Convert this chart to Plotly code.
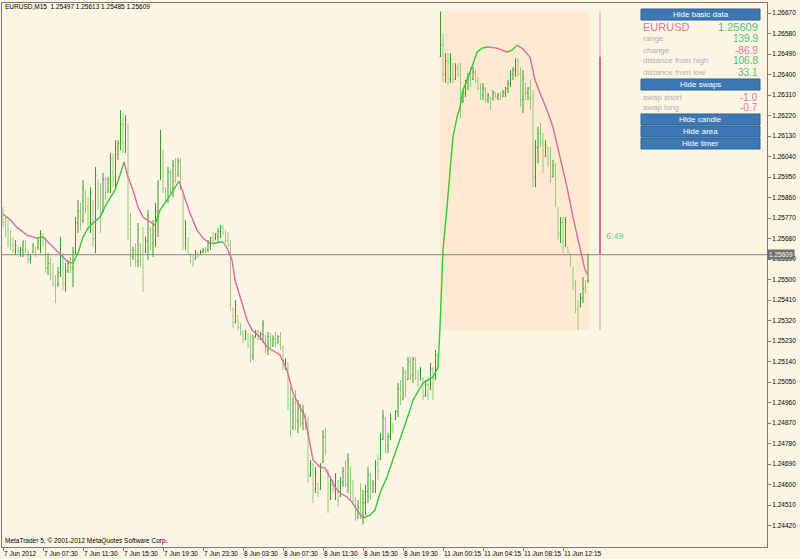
import plotly.graph_objects as go

# ---------------- data (EURUSD, M15) ----------------
opens = [1.25800,1.25750,1.25710,1.25670,1.25650,1.25630,1.25640,1.25620,1.25630,1.25660,
1.25630,1.25590,1.25620,1.25640,1.25640,1.25660,1.25690,1.25660,1.25550,1.25570,
1.25520,1.25480,1.25480,1.25530,1.25600,1.25480,1.25540,1.25570,1.25550,1.25620,
1.25750,1.25800,1.25760,1.25890,1.25820,1.25750,1.25820,1.25680,1.25920,1.25840,
1.25800,1.25940,1.25890,1.25930,1.26030,1.25950,1.26050,1.26100,1.26180,1.26100,
1.26170,1.25720,1.25600,1.25630,1.25580,1.25650,1.25680,1.25620,1.25670,1.25720,
1.25660,1.25740,1.25800,1.25940,1.26050,1.25900,1.25850,1.25970,1.25900,1.26000,
1.25960,1.26020,1.25870,1.25660,1.25680,1.25610,1.25580,1.25590,1.25610,1.25610,
1.25620,1.25630,1.25630,1.25660,1.25680,1.25680,1.25690,1.25710,1.25730,1.25700,
1.25670,1.25650,1.25370,1.25310,1.25340,1.25290,1.25270,1.25240,1.25260,1.25210,
1.25170,1.25250,1.25270,1.25240,1.25260,1.25250,1.25190,1.25250,1.25210,1.25240,
1.25220,1.25250,1.25200,1.25120,1.25130,1.24950,1.24850,1.24960,1.24880,1.24930,
1.24870,1.24910,1.24860,1.24640,1.24690,1.24580,1.24600,1.24580,1.24700,1.24810,
1.24660,1.24540,1.24600,1.24580,1.24615,1.24550,1.24610,1.24660,1.24600,1.24670,
1.24560,1.24530,1.24450,1.24500,1.24470,1.24520,1.24570,1.24640,1.24570,1.24600,
1.24690,1.24710,1.24800,1.24890,1.24770,1.24810,1.24865,1.24890,1.24920,1.25020,
1.24980,1.25090,1.25060,1.25140,1.25080,1.25150,1.25070,1.25060,1.25060,1.24990,
1.25040,1.25020,1.25110,1.25060,1.25160,1.26478,1.26530,1.26400,1.26460,1.26380,
1.26445,1.26380,1.26430,1.26400,1.26280,1.26320,1.26360,1.26390,1.26380,1.26410,
1.26370,1.26340,1.26310,1.26340,1.26290,1.26300,1.26290,1.26320,1.26300,1.26310,
1.26305,1.26320,1.26340,1.26360,1.26400,1.26420,1.26460,1.26400,1.26290,1.26360,
1.26320,1.26340,1.26300,1.25950,1.26080,1.26140,1.26100,1.26040,1.26080,1.26010,
1.25950,1.26000,1.25810,1.25700,1.25750,1.25650,1.25640,1.25610,1.25550,1.25480,
1.25370,1.25380,1.25420,1.25460,1.25497]

highs = [1.25818,1.25774,1.25761,1.25717,1.25687,1.25673,1.25643,1.25643,1.25673,1.25673,
1.25630,1.25608,1.25660,1.25643,1.25687,1.25717,1.25704,1.25687,1.25616,1.25594,
1.25572,1.25520,1.25555,1.25687,1.25616,1.25572,1.25586,1.25599,1.25643,1.25774,
1.25849,1.25836,1.25937,1.25893,1.25862,1.25906,1.25849,1.25994,1.25937,1.25924,
1.25968,1.25950,1.25950,1.26055,1.26055,1.26112,1.26112,1.26244,1.26231,1.26222,
1.26187,1.25792,1.25643,1.25660,1.25748,1.25660,1.25730,1.25687,1.25805,1.25730,
1.25761,1.25836,1.25937,1.26156,1.26069,1.25906,1.25994,1.25981,1.26025,1.26033,
1.26033,1.26033,1.25871,1.25761,1.25687,1.25616,1.25608,1.25630,1.25621,1.25630,
1.25638,1.25643,1.25673,1.25687,1.25709,1.25704,1.25726,1.25739,1.25739,1.25717,
1.25709,1.25673,1.25379,1.25410,1.25344,1.25309,1.25278,1.25278,1.25265,1.25265,
1.25256,1.25278,1.25278,1.25270,1.25322,1.25256,1.25270,1.25265,1.25256,1.25270,
1.25256,1.25270,1.25212,1.25155,1.25134,1.25028,1.24984,1.25015,1.24971,1.24958,
1.24949,1.24914,1.24896,1.24708,1.24694,1.24677,1.24607,1.24694,1.24839,1.24852,
1.24664,1.24633,1.24620,1.24651,1.24620,1.24633,1.24677,1.24708,1.24738,1.24677,
1.24620,1.24545,1.24532,1.24607,1.24576,1.24598,1.24677,1.24651,1.24620,1.24708,
1.24729,1.24826,1.24927,1.24896,1.24826,1.24914,1.24870,1.24927,1.25046,1.25059,
1.25116,1.25103,1.25160,1.25160,1.25160,1.25160,1.25103,1.25116,1.25072,1.25059,
1.25072,1.25134,1.25116,1.25191,1.25177,1.26677,1.26582,1.26494,1.26494,1.26494,
1.26450,1.26450,1.26450,1.26450,1.26332,1.26376,1.26407,1.26433,1.26433,1.26420,
1.26389,1.26363,1.26363,1.26345,1.26319,1.26301,1.26332,1.26323,1.26319,1.26323,
1.26332,1.26345,1.26376,1.26420,1.26433,1.26472,1.26472,1.26433,1.26420,1.26363,
1.26345,1.26376,1.26332,1.26112,1.26170,1.26187,1.26143,1.26112,1.26082,1.26082,
1.26025,1.26011,1.25818,1.25774,1.25774,1.25774,1.25643,1.25616,1.25555,1.25498,
1.25410,1.25441,1.25511,1.25498,1.25613]

lows = [1.25730,1.25687,1.25643,1.25630,1.25616,1.25608,1.25616,1.25599,1.25599,1.25616,
1.25572,1.25572,1.25616,1.25599,1.25630,1.25616,1.25643,1.25529,1.25520,1.25498,
1.25467,1.25397,1.25467,1.25511,1.25454,1.25445,1.25529,1.25529,1.25467,1.25608,
1.25704,1.25717,1.25748,1.25792,1.25717,1.25704,1.25643,1.25616,1.25805,1.25704,
1.25792,1.25849,1.25880,1.25880,1.25906,1.25906,1.26025,1.26069,1.26055,1.26055,
1.25673,1.25555,1.25586,1.25555,1.25555,1.25555,1.25445,1.25616,1.25586,1.25630,
1.25599,1.25643,1.25687,1.25937,1.25880,1.25836,1.25836,1.25880,1.25862,1.25924,
1.25950,1.25893,1.25630,1.25630,1.25608,1.25572,1.25555,1.25586,1.25594,1.25608,
1.25616,1.25616,1.25621,1.25630,1.25660,1.25673,1.25665,1.25682,1.25695,1.25660,
1.25643,1.25366,1.25287,1.25309,1.25278,1.25256,1.25221,1.25234,1.25199,1.25134,
1.25147,1.25243,1.25234,1.25234,1.25221,1.25177,1.25169,1.25199,1.25204,1.25204,
1.25221,1.25191,1.25103,1.25103,1.24927,1.24809,1.24839,1.24839,1.24826,1.24852,
1.24839,1.24839,1.24607,1.24633,1.24519,1.24563,1.24545,1.24576,1.24694,1.24729,
1.24475,1.24532,1.24563,1.24532,1.24501,1.24545,1.24589,1.24589,1.24563,1.24532,
1.24510,1.24440,1.24450,1.24448,1.24425,1.24466,1.24519,1.24532,1.24563,1.24563,
1.24620,1.24708,1.24795,1.24738,1.24738,1.24795,1.24826,1.24883,1.24896,1.24949,
1.24971,1.24984,1.25059,1.25059,1.25046,1.25059,1.25028,1.25059,1.24971,1.24984,
1.24971,1.25015,1.24971,1.25059,1.25103,1.26477,1.26367,1.26363,1.26354,1.26363,
1.26363,1.26376,1.26389,1.26209,1.26275,1.26301,1.26332,1.26345,1.26376,1.26363,
1.26332,1.26288,1.26288,1.26275,1.26275,1.26244,1.26288,1.26297,1.26288,1.26288,
1.26301,1.26301,1.26319,1.26345,1.26376,1.26389,1.26389,1.26257,1.26231,1.26288,
1.26288,1.26244,1.25906,1.25906,1.26011,1.26082,1.25968,1.26038,1.25994,1.25924,
1.25950,1.25818,1.25673,1.25660,1.25616,1.25643,1.25616,1.25555,1.25454,1.25353,
1.25278,1.25379,1.25397,1.25441,1.25485]

closes = [1.25750,1.25700,1.25660,1.25650,1.25630,1.25650,1.25620,1.25630,1.25660,1.25630,
1.25590,1.25600,1.25650,1.25610,1.25670,1.25700,1.25660,1.25550,1.25570,1.25520,
1.25480,1.25420,1.25530,1.25650,1.25480,1.25540,1.25570,1.25550,1.25620,1.25750,
1.25800,1.25760,1.25900,1.25820,1.25750,1.25880,1.25680,1.25960,1.25840,1.25760,
1.25940,1.25880,1.25940,1.26030,1.25950,1.26080,1.26100,1.26180,1.26100,1.26200,
1.25720,1.25600,1.25630,1.25580,1.25720,1.25580,1.25500,1.25670,1.25780,1.25660,
1.25740,1.25800,1.25910,1.26120,1.25900,1.25850,1.25970,1.25900,1.26000,1.25950,
1.26020,1.25910,1.25660,1.25720,1.25620,1.25580,1.25570,1.25620,1.25600,1.25620,
1.25630,1.25620,1.25660,1.25680,1.25670,1.25700,1.25710,1.25730,1.25700,1.25670,
1.25650,1.25390,1.25310,1.25390,1.25290,1.25270,1.25230,1.25270,1.25210,1.25160,
1.25240,1.25270,1.25240,1.25260,1.25300,1.25190,1.25250,1.25210,1.25240,1.25220,
1.25250,1.25200,1.25120,1.25140,1.24950,1.24850,1.24960,1.24880,1.24930,1.24870,
1.24920,1.24860,1.24640,1.24690,1.24550,1.24650,1.24560,1.24680,1.24810,1.24750,
1.24500,1.24600,1.24580,1.24630,1.24530,1.24610,1.24660,1.24600,1.24710,1.24560,
1.24530,1.24460,1.24500,1.24470,1.24520,1.24570,1.24640,1.24570,1.24610,1.24690,
1.24660,1.24800,1.24900,1.24770,1.24810,1.24890,1.24840,1.24920,1.25020,1.24970,
1.25090,1.25010,1.25140,1.25080,1.25150,1.25070,1.25040,1.25100,1.24990,1.25040,
1.24990,1.25110,1.25020,1.25170,1.25140,1.26530,1.26400,1.26460,1.26380,1.26470,
1.26380,1.26430,1.26400,1.26240,1.26320,1.26360,1.26390,1.26360,1.26410,1.26370,
1.26340,1.26310,1.26340,1.26290,1.26310,1.26260,1.26320,1.26300,1.26310,1.26295,
1.26320,1.26340,1.26360,1.26400,1.26420,1.26460,1.26400,1.26290,1.26380,1.26320,
1.26340,1.26300,1.25950,1.26080,1.26140,1.26100,1.26000,1.26090,1.26010,1.25950,
1.26000,1.25840,1.25700,1.25750,1.25640,1.25750,1.25620,1.25570,1.25480,1.25370,
1.25330,1.25420,1.25460,1.25450,1.25609]

# moving average (bar position, value)
ma_pos = [0,3,5.5,9.6,13.6,16,18,21,23.6,26,28,30,32,34,36,38.8,41.6,44.8,46.8,48.4,
50,52,54,56,58.8,60.8,62.8,65.6,68,70.4,72,74.8,77.6,80,82,84,86,88,90,91.6,
92.8,95.6,97.6,99.6,102.8,105.6,108.8,110.8,113.6,116,118.8,120.8,122,124,126.8,128.8,130.8,132.8,134.8,137.6,
139.6,141.6,144,146.8,148.8,150.8,153.6,156,158.8,162.8,164,168,172,174,174.8,176,177.6,178.8,180,181.6,
182.8,184,185.6,187.6,189.6,191.6,194,197.6,201.6,203.6,205.6,208,210.8,212.8,214.8,217.6,220,222.8,225.6,228,
230.8,232.8,234]
ma_val = [1.25788,1.25761,1.25730,1.25695,1.25682,1.25687,1.25665,1.25630,1.25599,1.25577,
1.25572,1.25616,1.25687,1.25726,1.25748,1.25774,1.25836,1.25893,1.25959,1.26016,
1.25950,1.25893,1.25818,1.25774,1.25752,1.25739,1.25805,1.25849,1.25893,1.25932,
1.25880,1.25792,1.25717,1.25682,1.25665,1.25658,1.25662,1.25666,1.25630,1.25586,
1.25498,1.25397,1.25322,1.25278,1.25248,1.25204,1.25182,1.25169,1.25103,1.25002,
1.24940,1.24896,1.24826,1.24708,1.24677,1.24672,1.24633,1.24589,1.24563,1.24545,
1.24523,1.24488,1.24453,1.24466,1.24488,1.24563,1.24633,1.24708,1.24795,1.24927,
1.24971,1.25046,1.25072,1.25116,1.25291,1.25630,1.25818,1.25994,1.26126,1.26213,
1.26257,1.26332,1.26376,1.26433,1.26499,1.26516,1.26521,1.26516,1.26499,1.26507,
1.26529,1.26512,1.26477,1.26376,1.26319,1.26244,1.26169,1.26038,1.25906,1.25774,
1.25630,1.25542,1.25520]

tick_pos = [0,16,32,48,64,80,96,112,128,144,160,176,192,208,224]
tick_text = ["7 Jun 2012","7 Jun 07:30","7 Jun 11:30","7 Jun 15:30","7 Jun 19:30",
             "7 Jun 23:30","8 Jun 03:30","8 Jun 07:30","8 Jun 11:30","8 Jun 15:30",
             "8 Jun 19:30","11 Jun 00:15","11 Jun 04:15","11 Jun 08:15","11 Jun 12:15"]
price_ticks = [1.24420,1.24510,1.24600,1.24690,1.24780,1.24870,1.24960,1.25050,1.25140,
               1.25230,1.25320,1.25410,1.25500,1.25590,1.25680,1.25770,1.25860,1.25950,
               1.26040,1.26130,1.26220,1.26310,1.26400,1.26490,1.26580,1.26670]

symbol = "EURUSD"
timeframe = "M15"
day_start = 175          # first bar of 11 Jun
panel_labels = ["range", "change", "distance from high", "distance from low"]
panel_values = ["139.9", "-86.9", "106.8", "33.1"]
swap_labels = ["swap short", "swap long"]
swap_values = ["-1.0", "-0.7"]
timer_text = "6:49"

# ---------------- styling ----------------
BG = "#fdf5e4"
AREA = "#fdead0"
UP = "#3a9a2a"
DOWN = "#96cb7e"
MA_UP = "#2ecc2e"
MA_DN = "#e06a92"
BTN = "#3d78b4"
FONT = "Liberation Sans"

W, H = 800, 559
ML, MR, MT, MB = 2, 33, 3, 12
PW, PH = W - ML - MR, H - MT - MB

def px(xp):
    return (xp - ML) / PW

def py(yp):
    return (H - MB - yp) / PH

idx = list(range(len(opens)))
fig = go.Figure()

fig.add_trace(go.Ohlc(
    x=idx, open=opens, high=highs, low=lows, close=closes,
    increasing=dict(line=dict(color=UP, width=1)),
    decreasing=dict(line=dict(color=DOWN, width=1)),
    tickwidth=0.35, showlegend=False, hoverinfo="skip"))

# moving average, coloured by direction
runs = []
cur = None
for k in range(1, len(ma_pos)):
    up = ma_val[k] >= ma_val[k - 1]
    if cur is None or cur[0] != up:
        cur = [up, [ma_pos[k - 1]], [ma_val[k - 1]]]
        runs.append(cur)
    cur[1].append(ma_pos[k])
    cur[2].append(ma_val[k])
for up, xs, ys in runs:
    fig.add_trace(go.Scatter(x=xs, y=ys, mode="lines",
                             line=dict(color=MA_UP if up else MA_DN, width=1.4),
                             showlegend=False, hoverinfo="skip"))

day_high = max(highs[day_start:])
day_low = min(lows[day_start:])
day_open = opens[day_start]
last = closes[-1]

shapes = []
# daily area
shapes.append(dict(type="rect", xref="x", yref="y", x0=day_start - 0.2, x1=len(opens) - 0.6,
                   y0=day_low, y1=day_high, fillcolor=AREA, line=dict(width=0), layer="below"))
# current price line
shapes.append(dict(type="line", xref="paper", yref="y", x0=0, x1=1, y0=last, y1=last,
                   line=dict(color="#858585", width=1)))
# daily candle
cx = len(opens) + 3.8
shapes.append(dict(type="line", xref="x", yref="y", x0=cx, x1=cx, y0=day_low, y1=day_high,
                   line=dict(color="#f3c3cf", width=2)))
shapes.append(dict(type="line", xref="x", yref="y", x0=cx, x1=cx, y0=last, y1=day_open,
                   line=dict(color="#dd6b8e", width=2)))

annotations = []
annotations.append(dict(x=cx + 1.6, y=last, xref="x", yref="y", text=timer_text, showarrow=False,
                        xanchor="left", yanchor="bottom", yshift=12,
                        font=dict(family=FONT, size=9, color="#6cc98a")))
# title
annotations.append(dict(x=px(3), y=py(7), xref="paper", yref="paper", showarrow=False,
                        xanchor="left", yanchor="middle",
                        text=f"{symbol},{timeframe}  {opens[-1]:.5f} {highs[-1]:.5f} {lows[-1]:.5f} {closes[-1]:.5f}",
                        font=dict(family=FONT, size=6.5, color="#000000")))
annotations.append(dict(x=px(3), y=py(541), xref="paper", yref="paper", showarrow=False,
                        xanchor="left", yanchor="middle",
                        text="MetaTrader 5, © 2001-2012 MetaQuotes Software Corp.",
                        font=dict(family=FONT, size=6.5, color="#000000")))
# price label
annotations.append(dict(x=1, y=last, xref="paper", yref="y", showarrow=False,
                        xanchor="left", yanchor="middle", xshift=0, text=f"{last:.5f}",
                        bgcolor="#6f6f6f", borderpad=1,
                        font=dict(family=FONT, size=6.5, color="#ffffff")))

# info panel
BX0, BX1 = 641, 760

def button(y0, y1, label):
    shapes.append(dict(type="rect", xref="paper", yref="paper", x0=px(BX0), x1=px(BX1),
                       y0=py(y1), y1=py(y0), fillcolor=BTN, line=dict(color="#2b5f93", width=1)))
    annotations.append(dict(x=px((BX0 + BX1) / 2), y=py((y0 + y1) / 2), xref="paper", yref="paper",
                            showarrow=False, text=label, xanchor="center", yanchor="middle",
                            font=dict(family=FONT, size=8, color="#ffffff")))

def row(yc, label, value, lcol, vcol, lsize, vsize):
    annotations.append(dict(x=px(BX0), y=py(yc), xref="paper", yref="paper", showarrow=False,
                            text=label, xanchor="left", yanchor="middle",
                            font=dict(family=FONT, size=lsize, color=lcol)))
    annotations.append(dict(x=px(BX1), y=py(yc), xref="paper", yref="paper", showarrow=False,
                            text=value, xanchor="right", yanchor="middle",
                            font=dict(family=FONT, size=vsize, color=vcol)))

GREEN_T = "#4fc07a"
PINK_T = "#e57497"
GRAY_T = "#b0b0b0"
button(9, 20, "Hide basic data")
row(27, symbol, f"{last:.5f}", PINK_T, GREEN_T, 11, 11)
row_y = [39, 50, 61, 72]
for yy, lab, val in zip(row_y, panel_labels, panel_values):
    row(yy, lab, val, GRAY_T, PINK_T if val.startswith("-") else GREEN_T, 8, 10)
button(79, 90, "Hide swaps")
for yy, lab, val in zip([97, 108], swap_labels, swap_values):
    row(yy, lab, val, GRAY_T, PINK_T, 8, 10)
button(114, 125, "Hide candle")
button(126, 137, "Hide area")
button(138, 149, "Hide timer")

y_top = 1.26714
y_bot = 1.24326

fig.update_layout(
    width=W, height=H,
    margin=dict(l=ML, r=MR, t=MT, b=MB, autoexpand=False),
    paper_bgcolor=BG, plot_bgcolor=BG,
    shapes=shapes, annotations=annotations,
    showlegend=False,
    xaxis=dict(range=[-0.4, 305.6], rangeslider=dict(visible=False), showgrid=False,
               zeroline=False, showline=True, linecolor="#7a7a7a", linewidth=1, mirror=True,
               tickmode="array", tickvals=tick_pos, ticktext=tick_text, ticks="outside",
               ticklen=3, tickcolor="#7a7a7a", tickangle=0, automargin=False,
               tickfont=dict(family=FONT, size=6.5, color="#000000"),
               ticklabelposition="outside right", fixedrange=True),
    yaxis=dict(range=[y_bot, y_top], side="right", showgrid=False, zeroline=False,
               showline=True, linecolor="#7a7a7a", linewidth=1, mirror=True,
               tickmode="array", tickvals=price_ticks, ticktext=[f"{v:.5f}" for v in price_ticks],
               ticks="outside", ticklen=3, tickcolor="#7a7a7a", automargin=False,
               tickfont=dict(family=FONT, size=6.5, color="#000000"), fixedrange=True),
)

fig.write_html("out.html", config={"displayModeBar": False},
               post_script="document.body.style.margin='0';document.body.style.background='" + BG + "';")
